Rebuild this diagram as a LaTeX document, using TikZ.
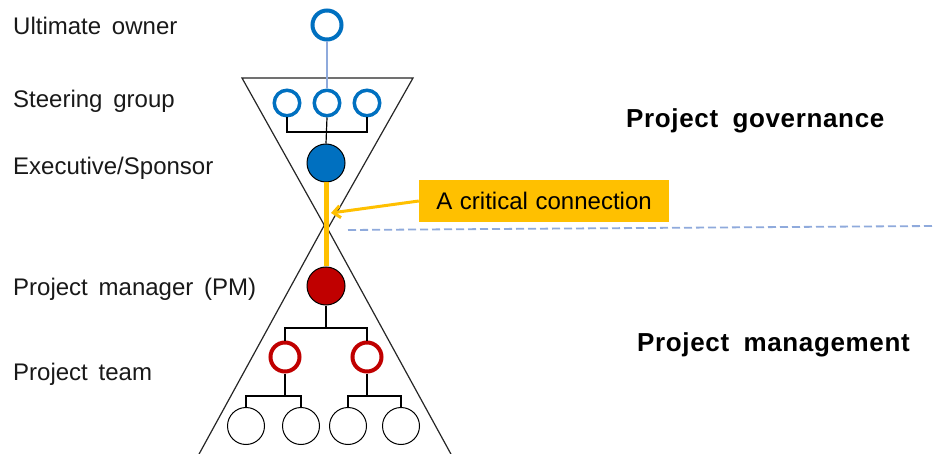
\documentclass[tikz,border=0pt]{standalone}
\usepackage{fontspec}
\setmainfont{Liberation Sans}
\newfontfamily\hdrfont[LetterSpace=2.5]{Liberation Sans}
\usetikzlibrary{arrows.meta}
\definecolor{cblue}{RGB}{0,112,192}
\definecolor{cred}{RGB}{192,0,0}
\definecolor{corange}{RGB}{255,192,0}
\definecolor{clight}{RGB}{143,170,220}
\definecolor{ctext}{RGB}{25,25,25}
\newcommand\mylblfont{\fontsize{24}{28}\selectfont\spaceskip 0.45em\relax}
\newcommand\myboxfont{\fontsize{24}{28}\selectfont\spaceskip 0.32em\relax}
\newcommand\myhdrfont{\hdrfont\fontsize{26}{30}\selectfont\bfseries\spaceskip 0.55em\relax}
\begin{document}
\begin{tikzpicture}[x=1pt,y=-1pt,
  lbl/.style={anchor=base west,inner sep=0pt,text=ctext,font=\mylblfont},
  hdr/.style={anchor=base west,inner sep=0pt,text=black,font=\myhdrfont},
  bring/.style={circle,draw=cblue,line width=3.5pt,fill=white,inner sep=0pt,minimum size=25.5pt},
  rring/.style={circle,draw=cred,line width=4pt,fill=white,inner sep=0pt,minimum size=29pt},
  wcirc/.style={circle,draw=black,line width=1pt,fill=white,inner sep=0pt,minimum size=37pt},
  solidc/.style={circle,draw=black,line width=1pt,inner sep=0pt,minimum size=38pt},
  tree/.style={draw=black,line width=1.2pt},
  tri/.style={draw=black!85,line width=1.2pt}
]
\useasboundingbox (0,0) rectangle (934,454);
\clip (0,0) rectangle (934,454);
\fill[white] (0,0) rectangle (934,454);

% hourglass
\coordinate (ul) at (242,78);
\coordinate (ur) at (413,78);
\coordinate (ua) at (327,230);
\coordinate (la) at (325,224);
\coordinate (ll) at (198,456);
\coordinate (lr) at (452,456);
\draw[tri] (ul) -- (ur) -- (ua) -- cycle;
\draw[tri] (ll) -- (la) -- (lr);

% dashed divider
\coordinate (dl) at (348,230);
\coordinate (dr) at (934,226);
\draw[clight,line width=1.8pt,dash pattern=on 8pt off 4pt] (dl) -- (dr);

% governance nodes
\node[bring,line width=4pt,minimum size=29pt] (own) at (327,25) {};
\node[bring] (s1) at (287,103) {};
\node[bring] (s2) at (327,103) {};
\node[bring] (s3) at (367,103) {};
\node[solidc,fill=cblue] (ex) at (326,163) {};
\draw[clight,line width=1.5pt] (own.south) -- (s2.north);
\coordinate (sgb) at (327,132);
\draw[tree] (s1.south) |- (sgb) -| (s3.south);
\draw[tree] (s2.south) -- (ex.north);

% management nodes
\node[solidc,fill=cred] (pm) at (326,286) {};
\node[rring] (t1) at (285,357) {};
\node[rring] (t2) at (367,357) {};
\node[wcirc] (w1) at (246,426) {};
\node[wcirc] (w2) at (301,426) {};
\node[wcirc] (w3) at (348,426) {};
\node[wcirc] (w4) at (401,426) {};
\coordinate (pmb) at (326,328);
\draw[tree] (pm.south) -- (pmb);
\draw[tree] (t1.north) |- (pmb) -| (t2.north);
\coordinate (t1b) at (285,396);
\coordinate (t2b) at (367,396);
\draw[tree] (t1.south) -- (t1b);
\draw[tree] (w1.north) |- (t1b) -| (w2.north);
\draw[tree] (t2.south) -- (t2b);
\draw[tree] (w3.north) |- (t2b) -| (w4.north);

% critical connection
\draw[corange,line width=5pt] (ex.south) -- (pm.north);
\node[fill=corange,minimum width=250pt,minimum height=42pt,inner sep=0pt,
      font=\myboxfont,text=black] (cc) at (544,201) {A critical connection};
\coordinate (tip) at (331,213);
\draw[corange,line width=3pt,-{Straight Barb[length=7pt,width=12pt]}] (cc.west) -- (tip);

% labels
\node[lbl] (l1) at (13,35) {Ultimate owner};
\node[lbl] (l2) at (13,108) {Steering group};
\node[lbl] (l3) at (13,175) {Executive/Sponsor};
\node[lbl] (l4) at (13,295) {Project manager (PM)};
\node[lbl] (l5) at (13,380) {Project team};
\node[hdr] (h1) at (626,128) {Project governance};
\node[hdr] (h2) at (637,351) {Project management};
\end{tikzpicture}
\end{document}
